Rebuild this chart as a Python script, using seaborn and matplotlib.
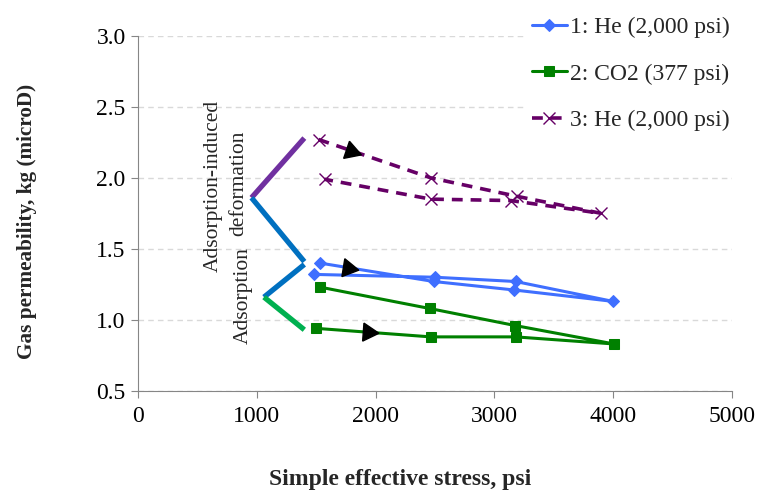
import numpy as np
import matplotlib
matplotlib.use('Agg')
import matplotlib.pyplot as plt
import seaborn as sns

# test 1: He (2,000 psi) - loading then unloading
he1_stress = [1530, 2490, 3170, 4000, 3180, 2500, 1480]
he1_perm = [1.40, 1.27, 1.21, 1.13, 1.27, 1.30, 1.32]

# test 2: CO2 (377 psi)
co2_stress = [1500, 2465, 3180, 4010, 3175, 2455, 1535]
co2_perm = [0.94, 0.88, 0.88, 0.83, 0.96, 1.08, 1.23]

# test 3: He (2,000 psi)
he3_stress = [1520, 2465, 3190, 3900, 3140, 2465, 1570]
he3_perm = [2.27, 2.00, 1.87, 1.75, 1.84, 1.85, 1.99]

labels = ['1: He (2,000 psi)', '2: CO2 (377 psi)', '3: He (2,000 psi)']

# bracket annotations (data coords)
bracket_upper_x = [1400, 955, 1400]
bracket_upper_y = [2.28, 1.86, 1.41]
bracket_lower_x = [1400, 1060, 1400]
bracket_lower_y = [1.39, 1.16, 0.93]

# fraction along the first segment where the direction arrow sits
arrow_frac = [0.25, 0.45, 0.29]

sns.set_style('white')
plt.rcParams['font.family'] = ['Liberation Serif', 'DejaVu Serif']

fig = plt.figure(figsize=(7.59, 4.91), dpi=100)
ax = fig.add_axes([0.182, 0.204, 0.782, 0.723])

blue = '#3f6fff'
green = '#008000'
purple = '#660066'

sns.lineplot(x=he1_stress, y=he1_perm, sort=False, estimator=None, ax=ax,
             color=blue, lw=2.2, marker='D', markersize=6, markeredgecolor=blue,
             label=labels[0])
sns.lineplot(x=co2_stress, y=co2_perm, sort=False, estimator=None, ax=ax,
             color=green, lw=2.2, marker='s', markersize=7, markeredgecolor=green,
             label=labels[1])
sns.lineplot(x=he3_stress, y=he3_perm, sort=False, estimator=None, ax=ax,
             color=purple, lw=2.6, marker='x', markersize=8, markeredgewidth=1,
             markeredgecolor=purple, dashes=(3, 2.2), label=labels[2])

ax.set_xlim(0, 5000)
ax.set_ylim(0.5, 3.0)
ax.set_xticks(range(0, 5001, 1000))
ax.set_yticks(np.arange(0.5, 3.01, 0.5))
ax.yaxis.set_major_formatter(matplotlib.ticker.FormatStrFormatter('%.1f'))
ax.grid(axis='y', color='#d9d9d9', ls=(0, (4, 3)), lw=1)
ax.grid(axis='x', visible=False)
ax.tick_params(axis='both', labelsize=17, colors='#868686', labelcolor='black',
               length=5, direction='out', left=True, bottom=True)
ax.tick_params(axis='y', pad=4)
ax.tick_params(axis='x', pad=6)
for s in ['top', 'right']:
    ax.spines[s].set_visible(False)
for s in ['left', 'bottom']:
    ax.spines[s].set_color('#868686')
ax.set_ylabel('Gas permeability, kg (microD)', fontsize=15.3, fontweight='bold')
ax.set_xlabel('Simple effective stress, psi', fontsize=17, fontweight='bold')
ax.yaxis.set_label_coords(-0.17, 0.476)
ax.xaxis.set_label_coords(0.441, -0.22)

# brackets
ax.plot(bracket_upper_x[:2], bracket_upper_y[:2], color='#7030a0', lw=3.8, solid_capstyle='butt')
ax.plot(bracket_upper_x[1:], bracket_upper_y[1:], color='#0070c0', lw=3.8, solid_capstyle='butt')
ax.plot(bracket_lower_x[:2], bracket_lower_y[:2], color='#0070c0', lw=3.8, solid_capstyle='butt')
ax.plot(bracket_lower_x[1:], bracket_lower_y[1:], color='#00b050', lw=3.8, solid_capstyle='butt')

ax.text(630, 1.94, 'Adsorption-induced', rotation=90, ha='center', va='center', fontsize=15.5)
ax.text(845, 1.96, 'deformation', rotation=90, ha='center', va='center', fontsize=15.5)
ax.text(885, 1.17, 'Adsorption', rotation=90, ha='center', va='center', fontsize=15.5)

# direction arrows
fig.canvas.draw()
for (xs, ys), t in zip([(he1_stress, he1_perm), (co2_stress, co2_perm), (he3_stress, he3_perm)], arrow_frac):
    p0 = ax.transData.transform((xs[0], ys[0]))
    p1 = ax.transData.transform((xs[1], ys[1]))
    ang = np.degrees(np.arctan2(p1[1] - p0[1], p1[0] - p0[0]))
    px = xs[0] + t * (xs[1] - xs[0])
    py = ys[0] + t * (ys[1] - ys[0])
    ax.plot([px], [py], marker=(3, 0, ang - 90), markersize=15, color='black', zorder=5)

leg = ax.legend(loc='upper left', bbox_to_anchor=(0.635, 1.1), fontsize=17, frameon=True,
                framealpha=1, edgecolor='white', labelspacing=1.05, handlelength=1.5,
                handletextpad=0.12, borderpad=0.2)

fig.savefig('out.png', dpi=100)
